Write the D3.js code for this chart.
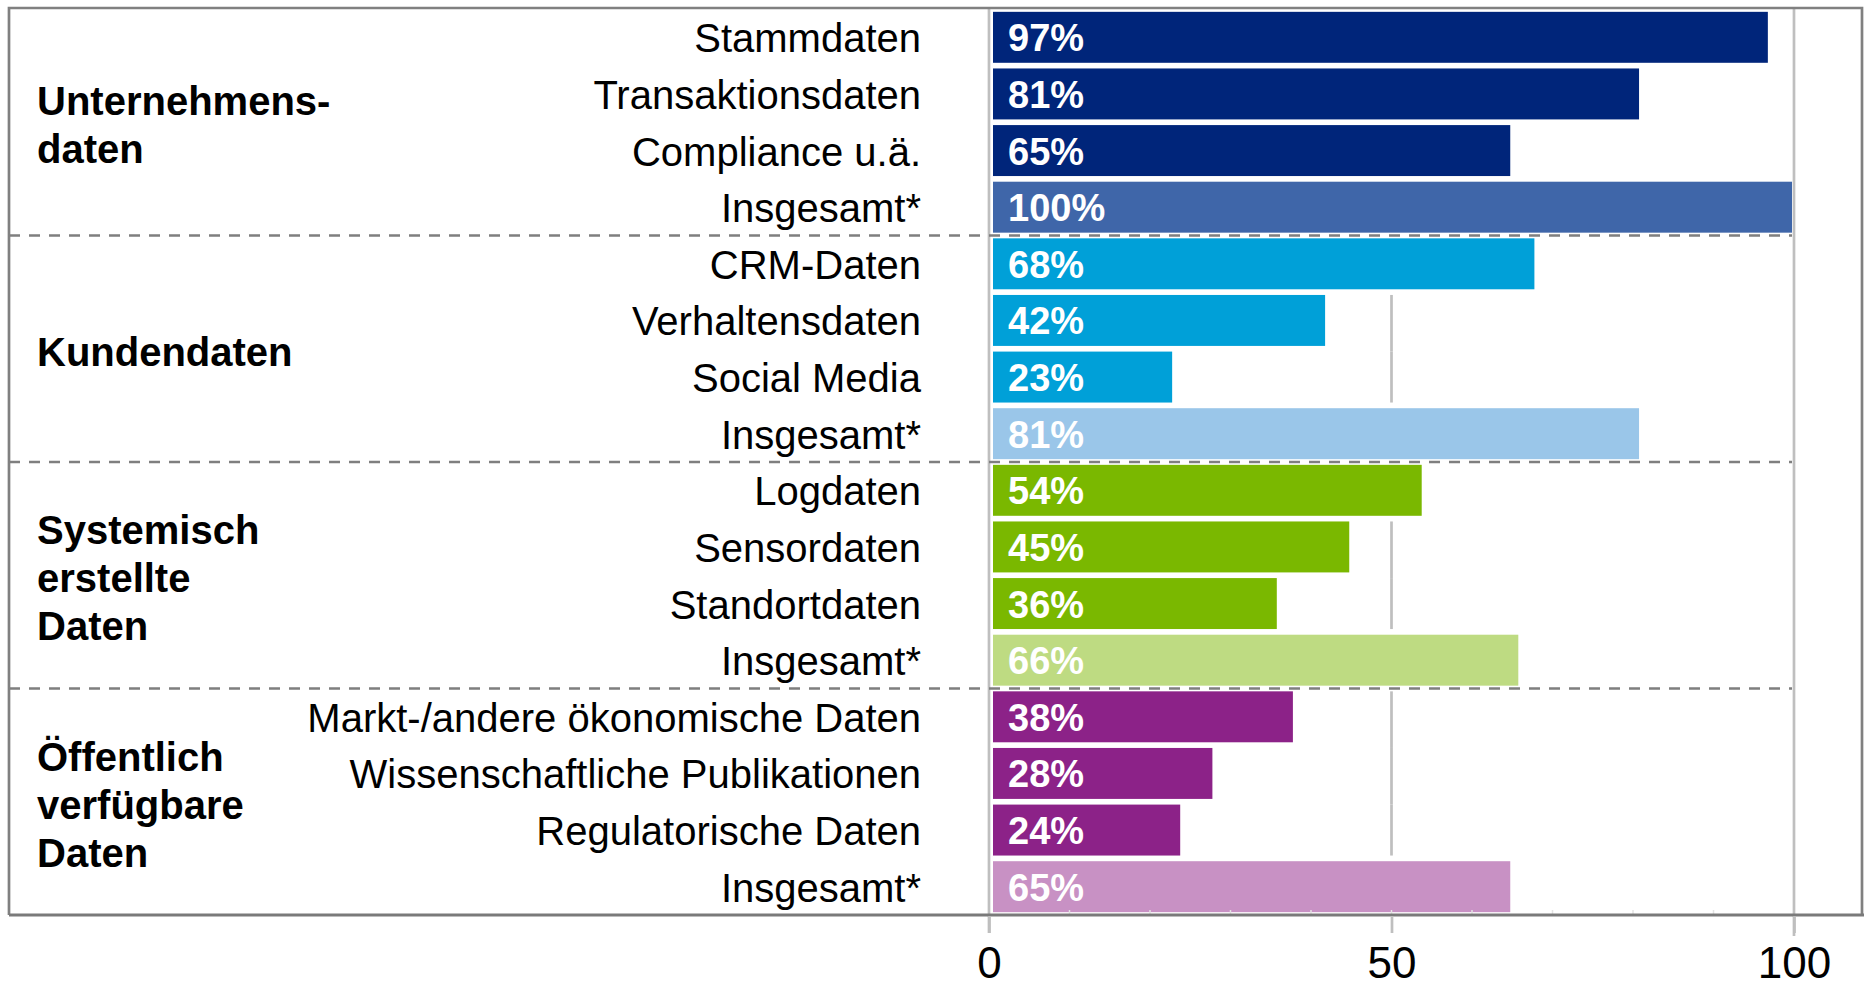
<!DOCTYPE html>
<html>
<head>
<meta charset="utf-8">
<script src="https://cdn.jsdelivr.net/npm/d3@7"></script>
<style>
  body { margin: 0; background: #fff; }
  text { font-family: "Liberation Sans", Arial, sans-serif; }
</style>
</head>
<body>
<script>
var groupLabels = [
  ["Unternehmens-", "daten"],
  ["Kundendaten"],
  ["Systemisch", "erstellte", "Daten"],
  ["Öffentlich", "verfügbare", "Daten"]
];

var categories = [
  "Stammdaten", "Transaktionsdaten", "Compliance u.ä.", "Insgesamt*",
  "CRM-Daten", "Verhaltensdaten", "Social Media", "Insgesamt*",
  "Logdaten", "Sensordaten", "Standortdaten", "Insgesamt*",
  "Markt-/andere ökonomische Daten", "Wissenschaftliche Publikationen", "Regulatorische Daten", "Insgesamt*"
];

var values = [97, 81, 65, 100, 68, 42, 23, 81, 54, 45, 36, 66, 38, 28, 24, 65];

// [detail colour, "Insgesamt" colour] per group
var groupColors = [
  ["#00257a", "#3f66a9"],
  ["#00a0d8", "#9ac6e9"],
  ["#7ab800", "#bedb82"],
  ["#8c2288", "#c891c4"]
];

var tickValues = [0, 50, 100];
var groupSize = 4;

var width = 1864, height = 991;

var svg = d3.select('body').append('svg')
  .attr('width', width)
  .attr('height', height);

var x = d3.scaleLinear().domain([0, 100]).range([989, 1794]);
var y = d3.scaleBand()
  .domain(d3.range(categories.length))
  .range([9, 915])
  .paddingInner(0.1)
  .paddingOuter(0.05);

var frameTop = 8, frameBottom = 915;
var gridColor = "#bfbfbf";

function colorOf(i) {
  var g = Math.floor(i / groupSize);
  return groupColors[g][i % groupSize == groupSize - 1 ? 1 : 0];
}

// full-height gridlines at 0 and 100
svg.selectAll('.grid')
  .data([0, 100])
  .enter().append('line')
  .attr('x1', function(d) { return x(d); })
  .attr('x2', function(d) { return x(d); })
  .attr('y1', frameTop)
  .attr('y2', function(d) { return d == 0 ? 933 : 936; })
  .attr('stroke', gridColor)
  .attr('stroke-width', 2.7);

// the 50 line only shows next to bars shorter than 50
values.forEach(function(v, i) {
  if (v >= 50) return;
  var next = values[i + 1];
  var y2 = (next !== undefined && next < 50) ? y(i + 1) : y(i) + y.bandwidth();
  svg.append('line')
    .attr('x1', x(50)).attr('x2', x(50))
    .attr('y1', y(i)).attr('y2', y2)
    .attr('stroke', gridColor)
    .attr('stroke-width', 2.7);
});

// bars
svg.selectAll('.bar')
  .data(values)
  .enter().append('rect')
  .attr('x', x(0) + 4)
  .attr('y', function(d, i) { return y(i); })
  .attr('width', function(d) { return x(d) - x(0) - 6; })
  .attr('height', y.bandwidth())
  .attr('fill', function(d, i) { return colorOf(i); });

// value labels inside bars
svg.selectAll('.val')
  .data(values)
  .enter().append('text')
  .attr('x', x(0) + 19)
  .attr('y', function(d, i) { return y(i) + y.bandwidth() / 2 + 1; })
  .attr('dominant-baseline', 'central')
  .attr('fill', '#fff')
  .attr('font-weight', 'bold')
  .attr('font-size', 38)
  .text(function(d) { return d + '%'; });

// dashed separators between groups
var step = y.step();
d3.range(1, groupLabels.length).forEach(function(g) {
  var yy = y(g * groupSize) - y.paddingInner() * step / 2;
  svg.append('line')
    .attr('x1', 9).attr('x2', x(100) - 2)
    .attr('y1', yy).attr('y2', yy)
    .attr('stroke', '#7f7f7f')
    .attr('stroke-width', 2.7)
    .attr('stroke-dasharray', '11,9');
});

// frame
svg.append('path')
  .attr('d', 'M9,' + frameBottom + 'V' + frameTop + 'H1862V' + frameBottom)
  .attr('fill', 'none')
  .attr('stroke', '#808080')
  .attr('stroke-width', 2.7);

// minor ticks on the bottom line
svg.selectAll('.minor')
  .data(d3.range(10, 100, 10))
  .enter().append('line')
  .attr('x1', function(d) { return x(d); })
  .attr('x2', function(d) { return x(d); })
  .attr('y1', frameBottom - 5)
  .attr('y2', frameBottom)
  .attr('stroke', '#e3e3e3')
  .attr('stroke-width', 1.5);

svg.append('line')
  .attr('x1', 9).attr('x2', width)
  .attr('y1', frameBottom).attr('y2', frameBottom)
  .attr('stroke', '#7a7a7a')
  .attr('stroke-width', 3);

// x axis
var axis = svg.append('g')
  .attr('transform', 'translate(0,' + (frameBottom + 1) + ')')
  .call(d3.axisBottom(x).tickValues(tickValues).tickSize(17).tickPadding(14));
axis.select('.domain').remove();
axis.selectAll('line').attr('stroke', gridColor).attr('stroke-width', 2.7);
axis.selectAll('text')
  .attr('font-size', 44)
  .attr('font-family', '"Liberation Sans", Arial, sans-serif')
  .attr('fill', '#000');

// category labels
svg.selectAll('.cat')
  .data(categories)
  .enter().append('text')
  .attr('x', 921)
  .attr('y', function(d, i) { return y(i) + y.bandwidth() / 2 + 1; })
  .attr('dominant-baseline', 'central')
  .attr('text-anchor', 'end')
  .attr('font-size', 40)
  .attr('fill', '#000')
  .text(function(d) { return d; });

// group labels
groupLabels.forEach(function(lines, g) {
  var c = (y(g * groupSize) + y(g * groupSize + groupSize - 1) + y.bandwidth()) / 2 + 3;
  var t = svg.append('text')
    .attr('font-size', 40)
    .attr('font-weight', 'bold')
    .attr('fill', '#000');
  lines.forEach(function(line, k) {
    t.append('tspan')
      .attr('x', 37)
      .attr('y', c + (k - (lines.length - 1) / 2) * 48)
      .attr('dominant-baseline', 'central')
      .text(line);
  });
});
</script>
</body>
</html>
